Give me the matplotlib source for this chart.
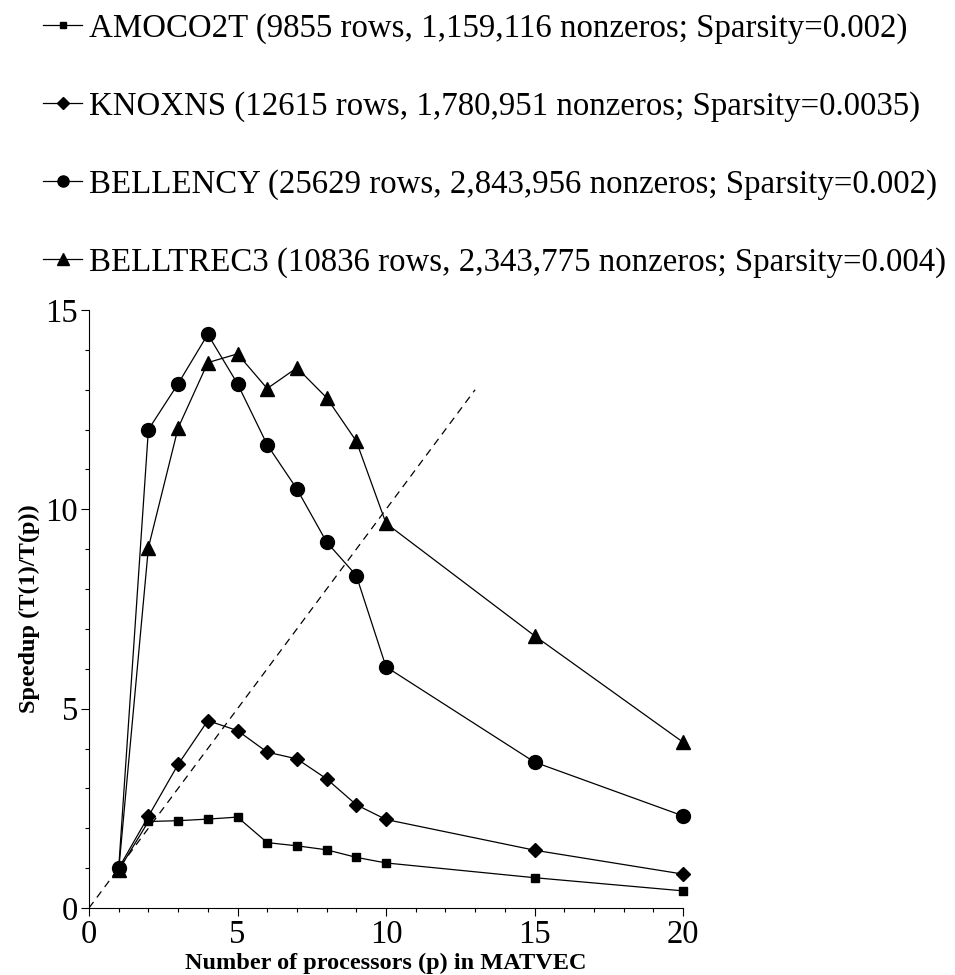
import matplotlib
matplotlib.use("Agg")
import matplotlib.pyplot as plt
from matplotlib.lines import Line2D
from matplotlib.ticker import MultipleLocator

plt.rcParams['font.family'] = ['Liberation Serif', 'DejaVu Serif']

# processors used in MATVEC
procs = [1, 2, 3, 4, 5, 6, 7, 8, 9, 10, 15, 20]

# speedup T(1)/T(p) per matrix
amoco2t = [0.95, 2.17, 2.19, 2.23, 2.28, 1.64, 1.56, 1.46, 1.27, 1.13, 0.76, 0.43]
knoxns = [1.0, 2.30, 3.60, 4.70, 4.45, 3.91, 3.74, 3.24, 2.59, 2.22, 1.45, 0.85]
bellency = [1.0, 12.0, 13.15, 14.39, 13.15, 11.62, 10.51, 9.18, 8.34, 6.05, 3.66, 2.31]
belltrec3 = [0.95, 9.04, 12.04, 13.68, 13.90, 13.03, 13.55, 12.80, 11.71, 9.65, 6.83, 4.16]

ideal_x = [0, 13]

labels = [
    "AMOCO2T (9855 rows, 1,159,116 nonzeros; Sparsity=0.002)",
    "KNOXNS (12615 rows, 1,780,951 nonzeros; Sparsity=0.0035)",
    "BELLENCY (25629 rows, 2,843,956 nonzeros; Sparsity=0.002)",
    "BELLTREC3 (10836 rows, 2,343,775 nonzeros; Sparsity=0.004)",
]

W, H = 955, 975
fig = plt.figure(figsize=(W / 100, H / 100), dpi=100)
ax = fig.add_axes([89 / W, 1 - 908 / H, 594 / W, 598 / H])

# (values, marker, plot size, key size)
series = [(amoco2t, 's', 6, 5), (knoxns, 'D', 7, 6), (bellency, 'o', 10, 8), (belltrec3, '^', 10.5, 8.5)]
for vals, mk, ms, _ in series:
    ax.plot(procs, vals, color='black', lw=0.9, marker=mk, ms=ms, mfc='black', mec='black', clip_on=False)

# linear speedup reference
ax.plot(ideal_x, ideal_x, color='black', lw=0.9, ls=(0, (6, 4.5)))

ax.set_xlim(0, 20)
ax.set_ylim(0, 15)
ax.xaxis.set_major_locator(MultipleLocator(5))
ax.xaxis.set_minor_locator(MultipleLocator(1))
ax.yaxis.set_major_locator(MultipleLocator(5))
ax.yaxis.set_minor_locator(MultipleLocator(1))
for side in ('top', 'right'):
    ax.spines[side].set_visible(False)
for side in ('left', 'bottom'):
    ax.spines[side].set_linewidth(0.8)
ax.tick_params(which='major', direction='out', length=6, width=0.8, labelsize=23.5, pad=2)
ax.tick_params(which='minor', direction='out', length=3, width=0.8)

ax.set_xlabel("Number of processors (p) in MATVEC", fontsize=17.5, fontweight='bold', labelpad=2)
ax.set_ylabel("Speedup (T(1)/T(p))", fontsize=17.5, fontweight='bold', labelpad=4)

# key above the plot: short line with marker, then the description
for i, ((_, mk, _, kms), text) in enumerate(zip(series, labels)):
    y = 1 - (25 + 78 * i) / H
    fig.add_artist(Line2D([43 / W, 82 / W], [y, y], transform=fig.transFigure, color='black', lw=0.9))
    fig.add_artist(Line2D([62.5 / W], [y], transform=fig.transFigure, marker=mk, ms=kms,
                          mfc='black', mec='black', ls='none'))
    fig.text(89 / W, y, text, fontsize=23.7, ha='left', va='center_baseline')

fig.savefig("out.png", dpi=100)
